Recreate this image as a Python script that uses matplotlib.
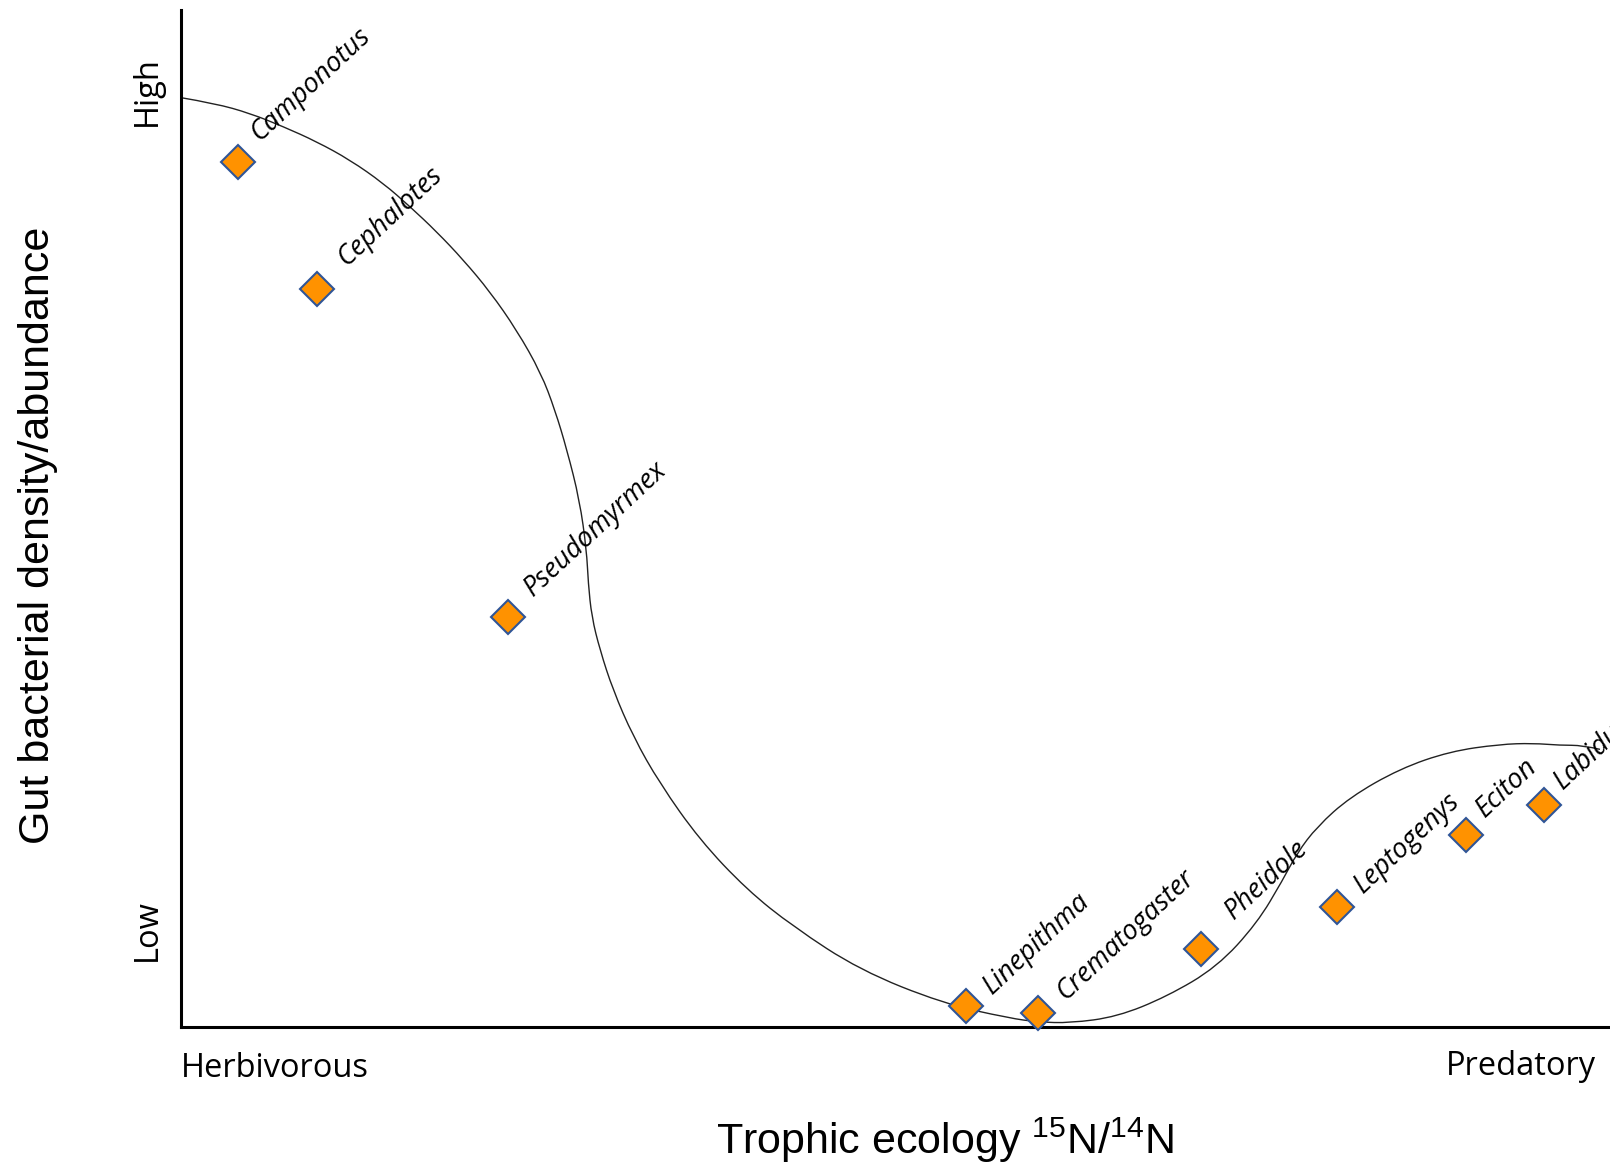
import matplotlib.pyplot as plt
from matplotlib.path import Path
from matplotlib.patches import PathPatch

# species points (x: trophic position 0-100, y: gut bacteria 0-100)
species = ["Camponotus", "Cephalotes", "Pseudomyrmex", "Linepithma", "Crematogaster",
           "Pheidole", "Leptogenys", "Eciton", "Labidus"]
trophic = [4.0, 9.5, 22.9, 54.9, 60.0, 71.4, 80.9, 89.9, 95.4]
bacteria = [85.1, 72.6, 40.3, 2.1, 1.4, 7.7, 11.8, 18.9, 21.8]

# hand-drawn trend curve
curve_x = [0.0, 2.38, 4.83, 7.16, 9.50, 11.83, 14.16, 16.03, 17.89, 19.76, 21.62,
           23.49, 25.19, 26.17, 27.01, 27.89, 28.38, 28.50, 28.74, 29.32, 30.23,
           31.65, 33.5, 36.3, 39.6, 42.85, 47.5, 53.3, 58.0, 60.0, 62.2,
           65.5, 69.0, 72.5, 75.3, 77.1, 78.1, 79.5, 81.8, 85.3, 88.8, 92.3, 94.6,
           96.5, 98.1, 99.3]
curve_y = [91.38, 90.81, 89.84, 88.53, 87.05, 85.25, 82.96, 80.66, 78.20, 75.42, 72.30,
           68.53, 64.31, 60.67, 56.74, 51.82, 46.90, 43.63, 40.34, 37.07, 33.14,
           28.54, 23.96, 18.4, 13.5, 9.86, 5.6, 2.33, 0.86, 0.49, 0.39,
           1.0, 3.0, 5.9, 10.2, 14.45, 17.1, 19.7, 22.6, 25.4, 27.1, 27.8, 27.9,
           27.7, 27.7, 27.3]

# label offsets from each marker, in pixels
label_dx = [21, 29, 25, 27, 27, 33, 26, 19, 19]
label_dy = [20, 22, 20, 11, 12, 29, 13, 17, 15]

plt.rcParams['mathtext.fontset'] = 'custom'
plt.rcParams['mathtext.rm'] = 'Liberation Sans'

fig = plt.figure(figsize=(16.1, 11.66), dpi=100)
ax = fig.add_axes([181/1610, 139/1166, 1 - 181/1610, 1017/1166])
ax.set_xlim(0, 100)
ax.set_ylim(0, 100)

# smooth the traced curve: traced points act as quadratic control points
pts = list(zip(curve_x, curve_y))
verts = [pts[0]]
codes = [Path.MOVETO]
for i in range(1, len(pts) - 1):
    mid = ((pts[i][0] + pts[i + 1][0]) / 2, (pts[i][1] + pts[i + 1][1]) / 2)
    if i == len(pts) - 2:
        mid = pts[-1]
    verts += [pts[i], mid]
    codes += [Path.CURVE3, Path.CURVE3]
ax.add_patch(PathPatch(Path(verts, codes), fc='none', ec='#222222', lw=1.0, zorder=2))

ax.plot(trophic, bacteria, 'D', ms=17.5, mfc='#FF9200', mec='#2F5597', mew=1.5,
        ls='none', zorder=3, clip_on=False)

for name, x, y, dx, dy in zip(species, trophic, bacteria, label_dx, label_dy):
    ax.annotate(name, (x, y), xytext=(dx, dy), textcoords='offset pixels',
                rotation=43, rotation_mode='anchor', ha='left', va='baseline',
                fontsize=19.5, family='Open Sans', style='italic', zorder=4,
                annotation_clip=False)

# axes styling
for s in ['top', 'right']:
    ax.spines[s].set_visible(False)
ax.spines['left'].set_linewidth(2.2)
ax.spines['bottom'].set_linewidth(2.2)
ax.set_xticks([])
ax.set_yticks([9.5, 92.05])
ax.set_yticklabels(["Low", "High"], rotation=90, va='center', family='Open Sans',
                   fontsize=23.5)
ax.tick_params(axis='y', length=0, pad=12)

ax.text(0.0, -0.049, "Herbivorous", transform=ax.transAxes, ha='left', va='baseline',
        family='Open Sans', fontsize=23.5)
ax.text(0.885, -0.047, "Predatory", transform=ax.transAxes, ha='left', va='baseline',
        family='Open Sans', fontsize=23.5)

fig.text(38/1610, 1 - 535/1166, "Gut bacterial density/abundance", rotation=90,
         ha='center', va='center', family='Liberation Sans', fontsize=31)
fig.text(945/1610, 1 - 1154/1166, r"Trophic ecology $^{15}$N/$^{14}$N",
         ha='center', va='baseline', family='Liberation Sans', fontsize=31)

fig.savefig("out.png", dpi=100)
